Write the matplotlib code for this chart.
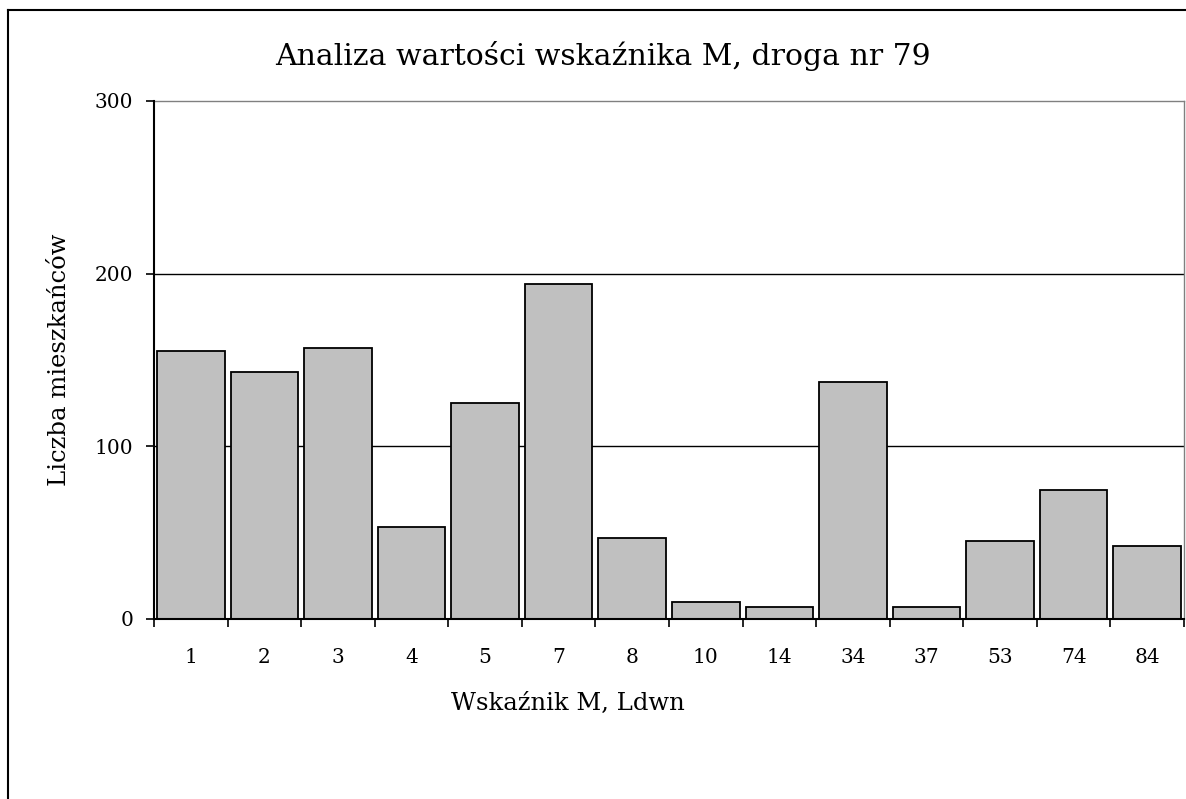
import matplotlib.pyplot as plt
from matplotlib.lines import Line2D
import numpy as np

# data
categories = ['1', '2', '3', '4', '5', '7', '8', '10', '14', '34', '37', '53', '74', '84']
counts = [155, 143, 157, 53, 125, 194, 47, 10, 7, 137, 7, 45, 75, 42]
yticks = [0, 100, 200, 300]

plt.rcParams['font.family'] = 'DejaVu Serif'

W, H = 1186, 799
fig = plt.figure(figsize=(W / 100, H / 100), dpi=100)

# plot area in pixels: left 154, right 1184, top 101, bottom 619
ax = fig.add_axes([154 / W, 1 - 619 / H, (1184 - 154) / W, (619 - 101) / H])

x = np.arange(len(categories))
ax.bar(x, counts, width=0.92, color='#c0c0c0', edgecolor='black', linewidth=1.3, zorder=3)

ax.set_xlim(-0.5, len(categories) - 0.5)
ax.set_ylim(0, 300)
ax.set_yticks(yticks)
ax.set_yticklabels([str(v) for v in yticks], fontsize=14.5)
ax.set_xticks(x)
ax.set_xticklabels(categories, fontsize=14.5)
ax.set_xticks(np.arange(-0.5, len(categories)), minor=True)
ax.tick_params(axis='x', which='major', length=0, pad=21)
ax.tick_params(axis='x', which='minor', length=6, width=1.2, direction='out')
ax.tick_params(axis='y', length=6, width=1.2, direction='out', pad=9)

for v in [100, 200]:
    ax.axhline(v, color='black', linewidth=1.0, zorder=1)

for s in ['left', 'bottom']:
    ax.spines[s].set_color('black')
    ax.spines[s].set_linewidth(1.5)
    ax.spines[s].set_zorder(4)
for s in ['top', 'right']:
    ax.spines[s].set_color('#808080')
    ax.spines[s].set_linewidth(1.0)

fig.text(603 / W, 1 - 56 / H, 'Analiza wartości wskaźnika M, droga nr 79',
         ha='center', va='center', fontsize=21.5)
fig.text(568 / W, 1 - 703 / H, 'Wskaźnik M, Ldwn', ha='center', va='center', fontsize=17.5)
fig.text(59 / W, 1 - 360 / H, 'Liczba mieszkańców', ha='center', va='center',
         rotation=90, fontsize=17.5)

# outer chart frame (cut off at right and bottom)
fig.add_artist(Line2D([8 / W, 1], [1 - 10 / H, 1 - 10 / H], color='black', linewidth=1.5))
fig.add_artist(Line2D([8 / W, 8 / W], [0, 1 - 10 / H], color='black', linewidth=1.5))

fig.savefig('out.png', dpi=100)
